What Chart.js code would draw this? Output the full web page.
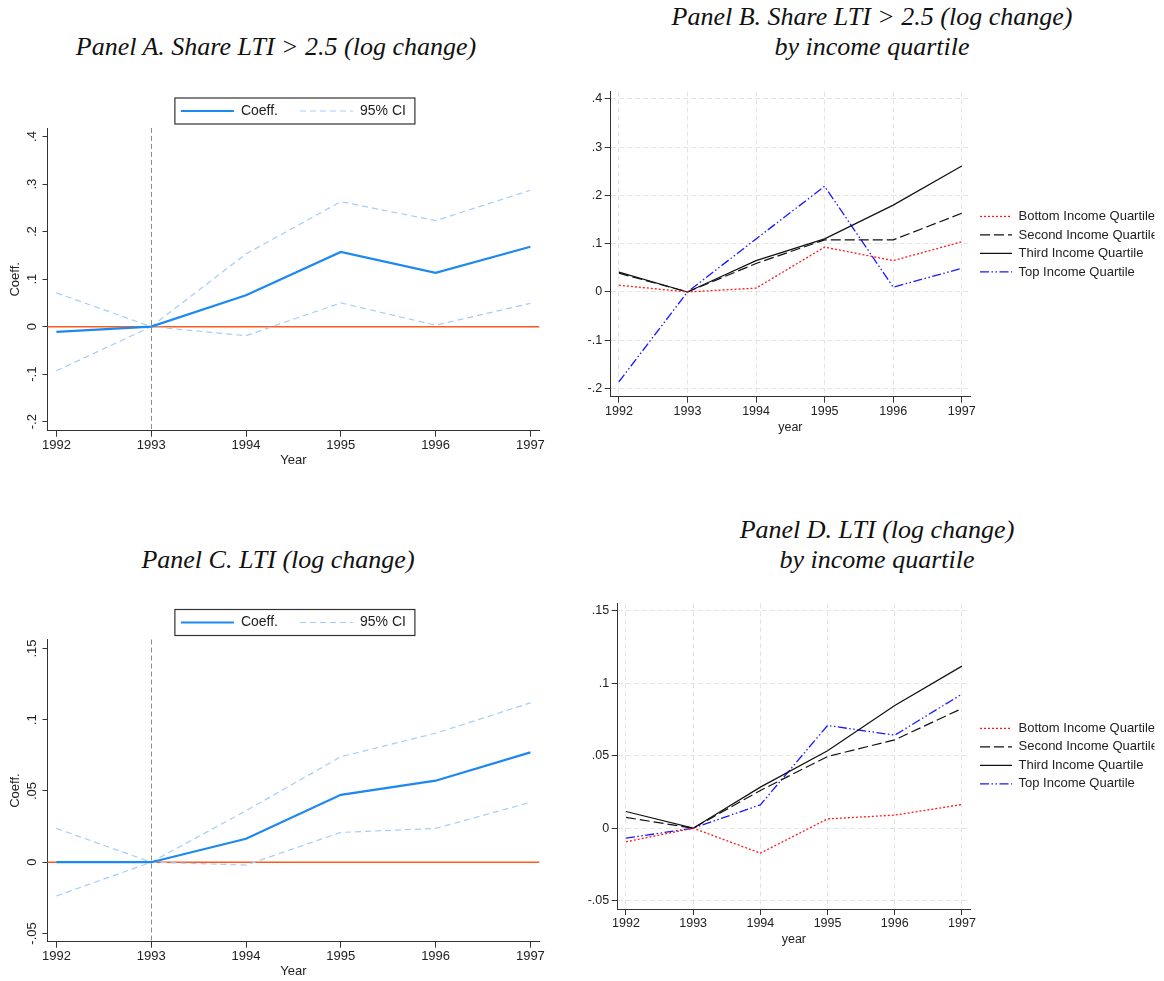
<!DOCTYPE html>
<html><head><meta charset="utf-8">
<script src="https://cdn.jsdelivr.net/npm/chart.js@4.4.1/dist/chart.umd.min.js"></script>
<style>
html,body{margin:0;padding:0;background:#fff;}
body{width:1164px;height:981px;position:relative;overflow:hidden;}
.title{position:absolute;width:600px;text-align:center;font:italic 26px/30px 'Liberation Serif',serif;color:#111;white-space:nowrap;}
canvas{position:absolute;}
</style></head><body>
<div class="title" style="left:-24px;top:31.7px">Panel A. Share LTI &gt; 2.5 (log change)</div>
<div class="title" style="left:572px;top:1.7px">Panel B. Share LTI &gt; 2.5 (log change)<br>by income quartile</div>
<div class="title" style="left:-22px;top:544.6px">Panel C. LTI (log change)</div>
<div class="title" style="left:577px;top:515.2px">Panel D. LTI (log change)<br>by income quartile</div>
<canvas id="cA" width="560" height="390" style="left:0;top:80px"></canvas>
<canvas id="cB" width="584" height="370" style="left:580px;top:70px"></canvas>
<canvas id="cC" width="560" height="390" style="left:0;top:590px"></canvas>
<canvas id="cD" width="584" height="370" style="left:580px;top:580px"></canvas>
<script>
// ---------- data ----------
const YEARS = [1992, 1993, 1994, 1995, 1996, 1997];
const REF_YEAR = 1993;

const A_COEF  = [-0.011, 0, 0.066, 0.157, 0.113, 0.168];
const A_UPPER = [0.071, 0, 0.153, 0.263, 0.223, 0.287];
const A_LOWER = [-0.093, 0, -0.019, 0.050, 0.003, 0.049];

const B_BOTTOM = [0.014, 0, 0.008, 0.093, 0.065, 0.104];
const B_SECOND = [0.039, 0, 0.059, 0.108, 0.108, 0.163];
const B_THIRD  = [0.041, 0, 0.065, 0.110, 0.180, 0.261];
const B_TOP    = [-0.186, 0, 0.110, 0.219, 0.010, 0.049];

const C_COEF  = [0, 0, 0.0164, 0.0473, 0.0572, 0.0771];
const C_UPPER = [0.0237, 0, 0.0361, 0.0740, 0.0905, 0.1118];
const C_LOWER = [-0.0237, 0, -0.0020, 0.0209, 0.0237, 0.0420];

const D_BOTTOM = [-0.0094, 0, -0.0172, 0.0064, 0.0090, 0.0163];
const D_SECOND = [0.0074, 0, 0.0260, 0.0494, 0.0609, 0.0825];
const D_THIRD  = [0.0115, 0, 0.0283, 0.0533, 0.0846, 0.1117];
const D_TOP    = [-0.0069, 0, 0.0161, 0.0708, 0.0641, 0.0924];

const AB_Y_TICKS = [-0.2, -0.1, 0, 0.1, 0.2, 0.3, 0.4];
const CD_Y_TICKS = [-0.05, 0, 0.05, 0.1, 0.15];

const EST_LABELS = ['Coeff.', '95% CI'];
const QUART_LABELS = ['Bottom Income Quartile', 'Second Income Quartile', 'Third Income Quartile', 'Top Income Quartile'];

// ---------- helpers ----------
const FONT = 'Liberation Sans';
const TXT = '#222';
Chart.defaults.font.family = FONT;
Chart.defaults.color = TXT;

function pts(vals) { return YEARS.map((y, i) => ({x: y, y: vals[i]})); }
function fmt(v) {
  const s = (+v.toFixed(4)).toString();
  return s.replace(/^(-?)0\./, '$1.');
}

const refLines = {
  id: 'refLines',
  beforeDatasetsDraw(chart) {
    const {ctx, chartArea: a, scales: {x, y}} = chart;
    ctx.save();
    ctx.strokeStyle = '#8c8c8c'; ctx.lineWidth = 1; ctx.setLineDash([5, 3]);
    const px = Math.round(x.getPixelForValue(REF_YEAR)) + 0.5;
    ctx.beginPath(); ctx.moveTo(px, a.top); ctx.lineTo(px, a.bottom); ctx.stroke();
    ctx.setLineDash([]);
    ctx.strokeStyle = '#ff5a1e'; ctx.lineWidth = 1.5;
    const py = y.getPixelForValue(0);
    ctx.beginPath(); ctx.moveTo(a.left, py); ctx.lineTo(a.right, py); ctx.stroke();
    ctx.restore();
  }
};
const rotatedYTicks = {
  id: 'rotatedYTicks',
  afterDraw(chart) {
    const s = chart.scales.y, ctx = chart.ctx;
    ctx.save();
    ctx.font = '13px "' + FONT + '"';
    ctx.fillStyle = TXT; ctx.textAlign = 'center'; ctx.textBaseline = 'alphabetic';
    s.ticks.forEach(t => {
      ctx.save();
      ctx.translate(s.right - 11.8, s.getPixelForValue(t.value));
      ctx.rotate(-Math.PI / 2);
      ctx.fillText(fmt(t.value), 0, 0);
      ctx.restore();
    });
    ctx.restore();
  }
};
const legendFrame = {
  id: 'legendFrame',
  afterDraw(chart) {
    const hb = chart.legend && chart.legend.legendHitBoxes;
    if (!hb || !hb.length) return;
    const f = hb[0], l = hb[hb.length - 1];
    const cy = f.top + f.height / 2;
    const x0 = f.left - 6, x1 = l.left + l.width + 9;
    const ctx = chart.ctx;
    ctx.save(); ctx.strokeStyle = '#333'; ctx.lineWidth = 1.2;
    ctx.strokeRect(x0, cy - 13, x1 - x0, 26);
    ctx.restore();
  }
};
function legendItems(chart, keep) {
  return chart.data.datasets.map((ds, i) => ({
    text: ds.label, strokeStyle: ds.borderColor, fillStyle: ds.borderColor,
    lineWidth: ds.borderWidth, lineDash: ds.borderDash || [], pointStyle: 'line',
    datasetIndex: i, hidden: false, fontColor: TXT
  })).filter(it => keep.includes(it.datasetIndex));
}

// ---------- panel A / C : event-study style ----------
function eventChart(id, coef, upper, lower, yTicks, yMin, yMax, layoutTop, xHeight, titlePad) {
  const line = (label, vals, color, width, dash) => ({
    label, data: pts(vals), borderColor: color, backgroundColor: color,
    borderWidth: width, borderDash: dash, pointRadius: 0, tension: 0, fill: false
  });
  return new Chart(document.getElementById(id), {
    type: 'line',
    data: {datasets: [
      line(EST_LABELS[0], coef, '#1c88f2', 2.2, []),
      line(EST_LABELS[1], upper, '#a6cdf7', 1.2, [6, 4]),
      line(EST_LABELS[1], lower, '#a6cdf7', 1.2, [6, 4])
    ]},
    options: {
      responsive: false, animation: false, devicePixelRatio: 1,
      layout: {padding: {top: layoutTop, left: 0, right: 20.7, bottom: 0}},
      plugins: {
        tooltip: {enabled: false},
        legend: {
          position: 'top', fullSize: false, align: 'center',
          labels: {usePointStyle: true, pointStyle: 'line', pointStyleWidth: 53, padding: 22,
                   font: {size: 14}, color: TXT,
                   generateLabels: ch => legendItems(ch, [0, 1])}
        }
      },
      scales: {
        x: {
          type: 'linear', min: 1991.906, max: 1997.094,
          afterBuildTicks: s => { s.ticks = YEARS.map(v => ({value: v})); },
          afterFit: s => { s.height = xHeight; },
          ticks: {callback: v => String(v), padding: 1.2, font: {size: 13}, color: TXT, maxRotation: 0},
          grid: {display: true, drawOnChartArea: false, drawTicks: true, tickLength: 6, tickColor: '#333', color: '#333'},
          border: {display: true, color: '#333', width: 1},
          title: {display: true, text: 'Year', font: {size: 13}, color: TXT, padding: {top: 0, bottom: titlePad}}
        },
        y: {
          type: 'linear', min: yMin, max: yMax,
          afterBuildTicks: s => { s.ticks = yTicks.map(v => ({value: v})); },
          afterFit: s => { s.width = 47.5; },
          ticks: {display: false},
          grid: {display: true, drawOnChartArea: false, drawTicks: true, tickLength: 5, tickColor: '#333', color: '#333'},
          border: {display: true, color: '#333', width: 1},
          title: {display: true, text: 'Coeff.', font: {size: 13}, color: TXT, padding: {top: 7.3, bottom: 0}}
        }
      }
    },
    plugins: [refLines, rotatedYTicks, legendFrame]
  });
}

// ---------- panel B / D : quartiles ----------
function quartChart(id, series, yTicks, yMin, yMax, xMin, xMax, padTop, yWidth, xHeight, titlePad) {
  const styles = [
    {color: '#ff1a1a', width: 1.3, dash: [2, 2]},
    {color: '#111111', width: 1.2, dash: [10, 4]},
    {color: '#111111', width: 1.2, dash: []},
    {color: '#1a1aff', width: 1.3, dash: [9, 2.5, 1.5, 2.5, 1.5, 2.5]}
  ];
  return new Chart(document.getElementById(id), {
    type: 'line',
    data: {datasets: series.map((vals, i) => ({
      label: QUART_LABELS[i], data: pts(vals),
      borderColor: styles[i].color, backgroundColor: styles[i].color,
      borderWidth: styles[i].width, borderDash: styles[i].dash,
      pointRadius: 0, tension: 0, fill: false
    }))},
    options: {
      responsive: false, animation: false, devicePixelRatio: 1,
      layout: {padding: {top: padTop, left: 0, right: 9.5, bottom: 0}},
      plugins: {
        tooltip: {enabled: false},
        legend: {
          position: 'right', fullSize: false, align: 'center', maxWidth: 180,
          labels: {usePointStyle: true, pointStyle: 'line', pointStyleWidth: 32, padding: 5.5,
                   font: {size: 13}, color: TXT,
                   generateLabels: ch => legendItems(ch, [0, 1, 2, 3])}
        }
      },
      scales: {
        x: {
          type: 'linear', min: xMin, max: xMax,
          afterBuildTicks: s => { s.ticks = YEARS.map(v => ({value: v})); },
          afterFit: s => { s.height = xHeight; },
          ticks: {callback: v => String(v), padding: 1, font: {size: 12.5}, color: TXT, maxRotation: 0},
          grid: {display: true, drawOnChartArea: true, drawTicks: true, tickLength: 6, tickColor: '#333', color: '#e4e4e4', lineWidth: 1},
          border: {display: true, color: '#333', width: 1, dash: [5, 3]},
          title: {display: true, text: 'year', font: {size: 12.5}, color: TXT, padding: {top: 0, bottom: titlePad}}
        },
        y: {
          type: 'linear', min: yMin, max: yMax,
          afterBuildTicks: s => { s.ticks = yTicks.map(v => ({value: v})); },
          afterFit: s => { s.width = yWidth; },
          ticks: {callback: v => fmt(v), padding: 2.5, font: {size: 12.5}, color: TXT},
          grid: {display: true, drawOnChartArea: true, drawTicks: true, tickLength: 6, tickColor: '#333', color: '#e4e4e4', lineWidth: 1},
          border: {display: true, color: '#333', width: 1, dash: [5, 3]}
        },
        legendGap: {
          type: 'linear', axis: 'y', position: 'right', display: true,
          afterFit: s => { s.width = 4.5; },
          ticks: {display: false},
          grid: {display: false, drawTicks: false},
          border: {display: false}
        }
      }
    }
  });
}

eventChart('cA', A_COEF, A_UPPER, A_LOWER, AB_Y_TICKS, -0.219, 0.418, 2, 39.3, 1.5);
eventChart('cC', C_COEF, C_UPPER, C_LOWER, CD_Y_TICKS, -0.0558, 0.1563, 3.5, 38.3, 0.5);
quartChart('cB', [B_BOTTOM, B_SECOND, B_THIRD, B_TOP], AB_Y_TICKS, -0.217, 0.415, 1991.88, 1997.12, 21.7, 30.7, 43.3, 4.5);
quartChart('cD', [D_BOTTOM, D_SECOND, D_THIRD, D_TOP], CD_Y_TICKS, -0.0557, 0.155, 1991.877, 1997.12, 23.3, 37.7, 41, 2.5);
</script>
</body></html>
